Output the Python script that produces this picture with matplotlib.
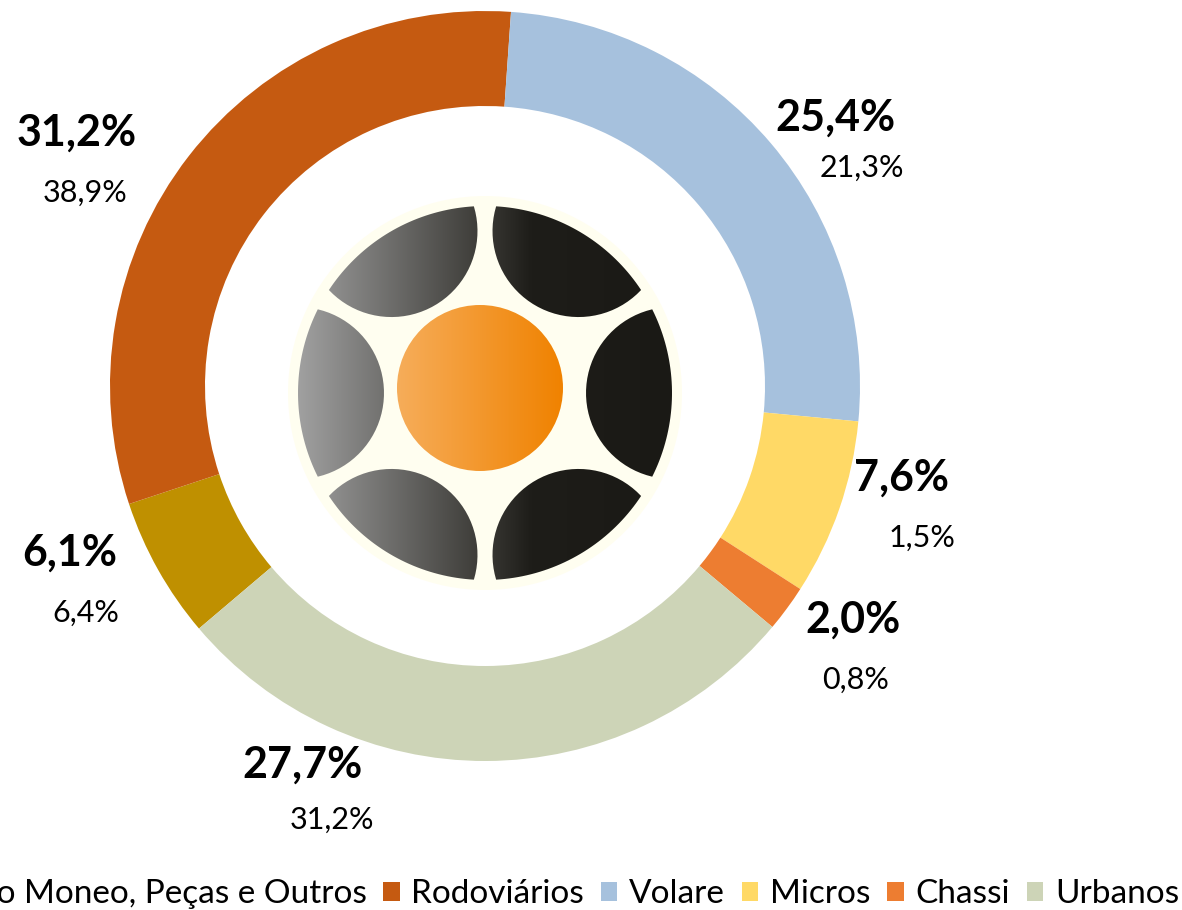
import numpy as np
import matplotlib.pyplot as plt
from matplotlib.patches import Circle, PathPatch, Rectangle
from matplotlib.path import Path
from matplotlib.colors import LinearSegmentedColormap

# Data
categories = ["Banco Moneo, Peças e Outros", "Rodoviários", "Volare", "Micros", "Chassi", "Urbanos"]
share_now = [6.1, 31.2, 25.4, 7.6, 2.0, 27.7]
share_prev = [6.4, 38.9, 21.3, 1.5, 0.8, 31.2]
colors = ["#BF9000", "#C55A11", "#A6C1DD", "#FFD966", "#ED7D31", "#CDD4B7"]

W, H = 1182, 910
fig = plt.figure(figsize=(W / 100, H / 100), dpi=100)
ax = fig.add_axes([0, 0, 1, 1])

font = "Lato"

# Donut (pixel coords, y up)
cx, cy, R = 485, H - 386, 375
wedges, _ = ax.pie(share_now, colors=colors, startangle=220.3, counterclock=False,
                   center=(cx, cy), radius=R, frame=True,
                   wedgeprops=dict(width=95, edgecolor="none"))


def fmt(v):
    return f"{v:.1f}%".replace(".", ",")


# label positions (bold label centre, in pixels from top-left)
label_pos = [(70, 553), (77, 133), (835, 118), (902, 478), (853, 620), (302, 765)]
sub_pos = [(86, 613), (85, 193), (862, 168), (922, 538), (856, 680), (332, 820)]
for i in range(len(categories)):
    x, y = label_pos[i]
    ax.text(x, H - y, fmt(share_now[i]), ha="center", va="center", fontsize=31,
            fontweight="bold", family=font, color="black")
    x, y = sub_pos[i]
    ax.text(x, H - y, fmt(share_prev[i]), ha="center", va="center", fontsize=22,
            family=font, color="black")

# Logo in the middle
lx, ly = 485, H - 393
ax.add_patch(Circle((lx, ly), 197, facecolor="#FFFEF0", edgecolor="none", zorder=3))

Rb, rs = 187, 86
beta = np.degrees(np.arccos(rs / (2 * Rb)))
half = np.degrees(2 * np.arcsin(rs / (2 * Rb)))
verts, codes = [], []
for a in [0, 60, 120, 180, 240, 300]:
    t1 = np.radians(np.linspace(a - half, a + half, 40))
    outer = np.column_stack([lx + Rb * np.cos(t1), ly + Rb * np.sin(t1)])
    ccx = lx + Rb * np.cos(np.radians(a))
    ccy = ly + Rb * np.sin(np.radians(a))
    t2 = np.radians(np.linspace(a + 180 - beta, a + 180 + beta, 40))
    inner = np.column_stack([ccx + rs * np.cos(t2), ccy + rs * np.sin(t2)])
    pts = np.vstack([outer, inner, outer[:1]])
    verts.extend(pts.tolist())
    codes.extend([Path.MOVETO] + [Path.LINETO] * (len(pts) - 2) + [Path.CLOSEPOLY])
petal_patch = PathPatch(Path(verts, codes), facecolor="none", edgecolor="none")
ax.add_patch(petal_patch)

gray_cmap = LinearSegmentedColormap.from_list(
    "petal", [(0.0, "#A3A3A3"), (0.5, "#3A3935"), (0.62, "#1E1D19"), (1.0, "#1A1915")])
grad = np.linspace(0, 1, 256).reshape(1, -1)
im = ax.imshow(grad, cmap=gray_cmap, extent=(lx - 192, lx + 192, ly - 192, ly + 192),
               aspect="auto", zorder=4, interpolation="bilinear")
im.set_clip_path(petal_patch)

orange = Circle((480, H - 388), 83, facecolor="none", edgecolor="none")
ax.add_patch(orange)
orange_cmap = LinearSegmentedColormap.from_list("orange", ["#F6AD5A", "#F08200"])
im2 = ax.imshow(grad, cmap=orange_cmap, extent=(397, 563, H - 471, H - 305),
                aspect="auto", zorder=5, interpolation="bilinear")
im2.set_clip_path(orange)

ax.set_xlim(0, W)
ax.set_ylim(0, H)
ax.set_aspect("equal")
ax.axis("off")

# Legend (cut on the left like the original)
handles = [Rectangle((0, 0), 1, 1, facecolor=c, edgecolor="none") for c in colors]
ax.legend(handles, categories, loc="lower right", bbox_to_anchor=(1179 / W, 1 / H),
          bbox_transform=fig.transFigure, ncol=6, frameon=False,
          prop=dict(family=font, size=24), handlelength=0.5, handleheight=0.5,
          handletextpad=0.35, columnspacing=0.5, borderaxespad=0, borderpad=0)

fig.savefig("out.png", dpi=100)
